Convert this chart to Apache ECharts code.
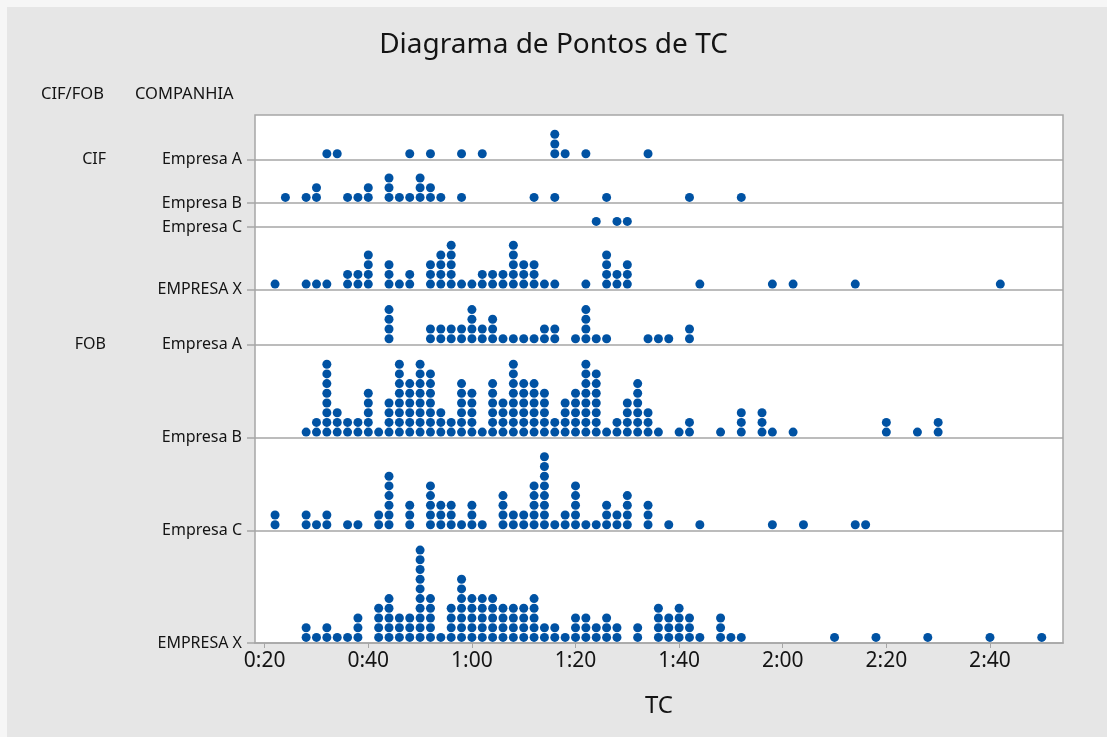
<!DOCTYPE html>
<html><head><meta charset="utf-8">
<script src="https://cdn.jsdelivr.net/npm/echarts@6/dist/echarts.min.js"></script>
<style>html,body{margin:0;padding:0;background:#f6f6f6}#c{width:1107px;height:737px}</style>
</head><body><div id="c"></div><script>
// ---------------- DATA ----------------
const tickMinutes = [20, 40, 60, 80, 100, 120, 140, 160];
const rowNames = ['Empresa A', 'Empresa B', 'Empresa C', 'EMPRESA X', 'Empresa A', 'Empresa B', 'Empresa C', 'EMPRESA X'];
const groupNames = ['CIF', 'FOB'];
// dot counts per 2-minute bin: [TC in minutes, number of dots]
const cifA = [[32,1],[34,1],[48,1],[52,1],[58,1],[62,1],[76,3],[78,1],[82,1],[94,1]];
const cifB = [[24,1],[28,1],[30,2],[36,1],[38,1],[40,2],[44,3],[46,1],[48,1],[50,3],[52,2],[54,1],[58,1],[72,1],[76,1],[86,1],[102,1],[112,1]];
const cifC = [[84,1],[88,1],[90,1]];
const cifX = [[22,1],[28,1],[30,1],[32,1],[36,2],[38,2],[40,4],[44,3],[46,1],[48,2],[52,3],[54,4],[56,5],[58,1],[60,1],[62,2],[64,2],[66,2],[68,5],[70,3],[72,3],[74,1],[76,1],[82,1],[86,4],[88,2],[90,3],[104,1],[118,1],[122,1],[134,1],[162,1]];
const fobA = [[44,4],[52,2],[54,2],[56,2],[58,2],[60,4],[62,2],[64,3],[66,1],[68,1],[70,1],[72,1],[74,2],[76,2],[80,1],[82,4],[84,1],[86,1],[94,1],[96,1],[98,1],[102,2]];
const fobB = [[28,1],[30,2],[32,8],[34,3],[36,2],[38,2],[40,5],[42,1],[44,4],[46,8],[48,6],[50,8],[52,7],[54,3],[56,2],[58,6],[60,5],[62,1],[64,6],[66,4],[68,8],[70,6],[72,6],[74,5],[76,2],[78,4],[80,5],[82,8],[84,7],[86,1],[88,2],[90,4],[92,6],[94,3],[96,1],[100,1],[102,2],[108,1],[112,3],[116,3],[118,1],[122,1],[140,2],[146,1],[150,2]];
const fobC = [[22,2],[28,2],[30,1],[32,2],[36,1],[38,1],[42,2],[44,6],[48,3],[52,5],[54,3],[56,3],[58,1],[60,3],[62,1],[66,4],[68,2],[70,2],[72,5],[74,8],[76,1],[78,2],[80,5],[82,1],[84,1],[86,3],[88,2],[90,4],[94,3],[98,1],[104,1],[118,1],[124,1],[134,1],[136,1]];
const fobX = [[28,2],[30,1],[32,2],[34,1],[36,1],[38,3],[42,4],[44,5],[46,3],[48,3],[50,10],[52,5],[54,1],[56,4],[58,7],[60,5],[62,5],[64,5],[66,4],[68,4],[70,4],[72,5],[74,2],[76,2],[78,1],[80,3],[82,3],[84,2],[86,3],[88,2],[92,2],[96,4],[98,3],[100,4],[102,3],[104,1],[108,3],[110,1],[112,1],[130,1],[138,1],[148,1],[160,1],[170,1]];
const rows = [cifA, cifB, cifC, cifX, fobA, fobB, fobC, fobX];

// ---------------- LAYOUT ----------------
const PLOT = {left: 255, top: 115, width: 808, height: 528};
const rowBase = [483.7, 440, 416, 353.3, 298.7, 205.3, 112.7, 0]; // panel baselines, px above plot bottom
const groupRow = [0, 4];
const DOT_OFF = 5.6, DOT_STEP = 9.7;
const FONT = '"Noto Sans", "Open Sans", sans-serif';
const INK = '#141414';

const dots = [];
rows.forEach((r, i) => {
  r.forEach(([m, n]) => {
    for (let k = 0; k < n; k++) dots.push([m, rowBase[i] + DOT_OFF + k * DOT_STEP]);
  });
});
const fmt = m => Math.floor(m / 60) + ':' + String(m % 60).padStart(2, '0');
const nearestRow = v => { let b = 0; rowBase.forEach((y, i) => { if (Math.abs(y - v) < Math.abs(rowBase[b] - v)) b = i; }); return b; };

const chart = echarts.init(document.getElementById('c'));
chart.setOption({
  backgroundColor: '#f6f6f6',
  animation: false,
  graphic: [
    {type: 'rect', z: -10, shape: {x: 7, y: 7, width: 1100, height: 730}, style: {fill: '#e6e6e6'}},
    {type: 'text', left: 41, top: 86, style: {text: 'CIF/FOB', font: '16.5px ' + FONT, fill: INK}},
    {type: 'text', left: 135, top: 86, style: {text: 'COMPANHIA', font: '16.5px ' + FONT, fill: INK}}
  ],
  title: {
    text: 'Diagrama de Pontos de TC', left: 'center', top: 26,
    textStyle: {fontFamily: FONT, fontSize: 28, fontWeight: 'normal', color: INK}
  },
  grid: {left: PLOT.left, top: PLOT.top, width: PLOT.width, height: PLOT.height,
    show: true, backgroundColor: '#ffffff', borderColor: '#a6a6a6', borderWidth: 1.5},
  xAxis: {
    type: 'value', min: 18.13, max: 174.1,
    name: 'TC', nameLocation: 'middle', nameGap: 51,
    nameTextStyle: {fontFamily: FONT, fontSize: 24, color: INK},
    axisLine: {show: true, lineStyle: {color: '#a6a6a6', width: 1.5}},
    axisTick: {show: true, customValues: tickMinutes, length: 5, lineStyle: {color: '#a6a6a6'}},
    axisLabel: {customValues: tickMinutes, formatter: v => fmt(v), fontFamily: FONT, fontSize: 21, color: INK, margin: 8},
    splitLine: {show: false}
  },
  yAxis: [{
    type: 'value', min: 0, max: PLOT.height, position: 'left',
    axisLine: {show: false},
    axisTick: {show: true, customValues: rowBase, length: 8, lineStyle: {color: '#a6a6a6', width: 1.5}},
    axisLabel: {customValues: rowBase, formatter: v => rowNames[nearestRow(v)], fontFamily: FONT, fontSize: 16, color: INK, margin: 13},
    splitLine: {show: false}
  }, {
    type: 'value', min: 0, max: PLOT.height, position: 'left', offset: 141,
    axisLine: {show: false}, axisTick: {show: false},
    axisLabel: {customValues: groupRow.map(i => rowBase[i]), formatter: v => groupNames[groupRow.indexOf(nearestRow(v))], fontFamily: FONT, fontSize: 16, color: INK, margin: 8},
    splitLine: {show: false}
  }],
  series: [{
    type: 'scatter', yAxisIndex: 0, data: dots, symbol: 'circle', symbolSize: 9,
    itemStyle: {color: '#0052a3', opacity: 1},
    markLine: {
      silent: true, symbol: ['none', 'none'], label: {show: false},
      lineStyle: {color: '#a6a6a6', width: 1.5, type: 'solid'},
      data: rowBase.slice(0, 7).map(b => ({yAxis: b}))
    }
  }]
});
</script></body></html>
